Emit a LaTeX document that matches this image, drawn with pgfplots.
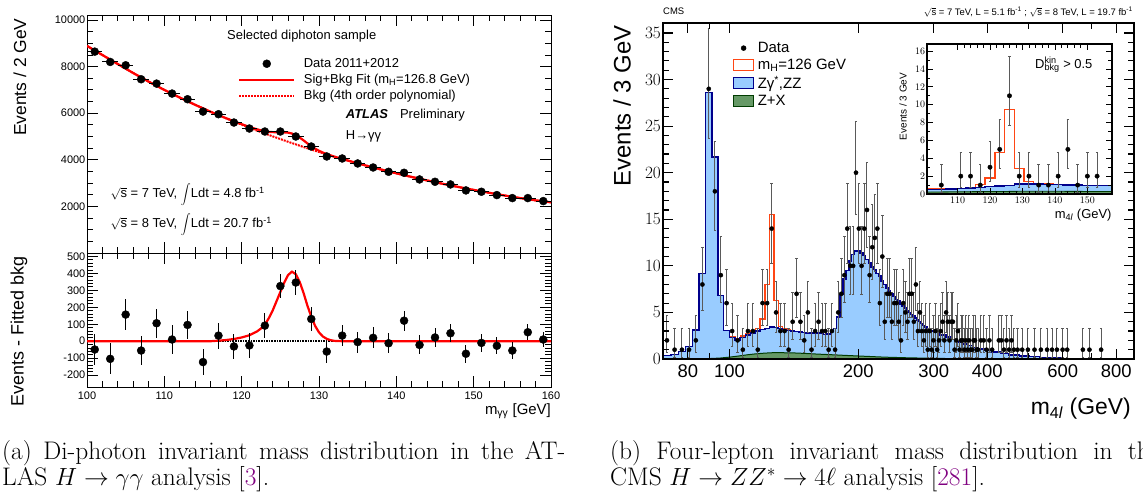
\documentclass[border=0pt]{standalone}
\usepackage{pgfplots}
\pgfplotsset{compat=1.18}
\usepackage{pgfplotstable}
\usepackage{fontspec}
\newfontfamily\arial{Liberation Sans}
\definecolor{cmsblue}{RGB}{153,204,255}
\definecolor{cmsnavy}{RGB}{0,0,140}
\definecolor{cmsgreen}{RGB}{102,153,102}
\definecolor{cmsdkgreen}{RGB}{0,60,0}
\definecolor{cmsred}{RGB}{255,70,20}
\definecolor{citepurple}{RGB}{128,0,128}
\definecolor{errgray}{RGB}{90,90,90}
\newcommand{\af}[1]{\arial\fontsize{#1}{#1}\selectfont}

\pgfplotstableread{
x y
101 8643
103 8200
105 8057
107 7457
109 7271
111 6843
113 6600
115 6071
117 5957
119 5600
121 5343
123 5214
125 5214
127 5000
129 4571
131 4143
133 4057
135 3843
137 3671
139 3486
141 3443
143 3157
145 3057
147 2943
149 2686
151 2629
153 2486
155 2357
157 2357
159 2229
}\atlasdata

\pgfplotstableread{
x y e
101 -49 93
103 -104 91
105 157 89
107 -55 87
109 106 85
111 10 83
113 96 81
115 -123 79
117 33 77
119 -31 75
121 -25 73
123 92 72
125 325 72
127 346 71
129 131 68
131 -61 65
133 33 64
135 -5 62
137 20 61
139 -12 59
141 121 58
143 -22 56
145 22 55
147 47 54
149 -74 53
151 -10 51
153 -27 50
155 -55 49
157 53 48
159 10 47
}\atlasres

\pgfplotstableread{
x y ep em
71.5 2 2.64 1.29
74.5 1 2.30 0.83
77.5 1 2.30 0.83
80.5 1 2.30 0.83
83.5 2 2.64 1.29
86.5 8 3.94 2.77
89.5 29 6.44 5.36
92.5 18 5.32 4.21
95.5 9 4.11 2.95
98.5 6 3.58 2.38
101.5 3 2.92 1.63
104.5 2 2.64 1.29
107.5 1 2.30 0.83
110.5 3 2.92 1.63
113.5 3 2.92 1.63
116.5 1 2.30 0.83
119.5 6 3.58 2.38
122.5 6 3.58 2.38
125.5 14 4.83 3.70
128.5 5 3.38 2.16
131.5 3 2.92 1.63
134.5 3 2.92 1.63
137.5 1 2.30 0.83
140.5 4 3.16 1.91
143.5 7 3.77 2.58
146.5 4 3.16 1.91
149.5 2 2.64 1.29
152.5 5 3.38 2.16
155.5 1 2.30 0.83
158.5 3 2.92 1.63
161.5 4 3.16 1.91
164.5 3 2.92 1.63
167.5 3 2.92 1.63
170.5 1 2.30 0.83
173.5 3 2.92 1.63
176.5 1 2.30 0.83
179.5 5 3.38 2.16
182.5 7 3.77 2.58
185.5 9 4.11 2.95
188.5 14 4.83 3.70
191.5 10 4.27 3.11
194.5 10 4.27 3.11
197.5 20 5.55 4.44
200.5 14 4.83 3.70
203.5 10 4.27 3.11
206.5 14 4.83 3.70
209.5 16 5.08 3.97
212.5 9 4.11 2.95
215.5 12 4.56 3.42
218.5 13 4.70 3.56
221.5 14 4.83 3.70
224.5 6 3.58 2.38
227.5 11 4.42 3.27
230.5 4 3.16 1.91
233.5 7 3.77 2.58
236.5 7 3.77 2.58
239.5 4 3.16 1.91
242.5 6 3.58 2.38
245.5 6 3.58 2.38
248.5 4 3.16 1.91
251.5 2 2.64 1.29
254.5 6 3.58 2.38
257.5 5 3.38 2.16
260.5 4 3.16 1.91
263.5 7 3.77 2.58
266.5 7 3.77 2.58
269.5 4 3.16 1.91
272.5 8 3.94 2.77
275.5 3 2.92 1.63
278.5 5 3.38 2.16
281.5 3 2.92 1.63
284.5 2 2.64 1.29
287.5 3 2.92 1.63
290.5 1 2.30 0.83
293.5 3 2.92 1.63
296.5 1 2.30 0.83
299.5 2 2.64 1.29
302.5 3 2.92 1.63
305.5 1 2.30 0.83
308.5 2 2.64 1.29
311.5 3 2.92 1.63
314.5 4 3.16 1.91
317.5 2 2.64 1.29
320.5 5 3.38 2.16
323.5 4 3.16 1.91
326.5 2 2.64 1.29
329.5 4 3.16 1.91
332.5 4 3.16 1.91
335.5 1 2.30 0.83
338.5 2 2.64 1.29
341.5 3 2.92 1.63
344.5 1 2.30 0.83
347.5 2 2.64 1.29
350.5 2 2.64 1.29
353.5 1 2.30 0.83
356.5 2 2.64 1.29
359.5 1 2.30 0.83
362.5 2 2.64 1.29
365.5 1 2.30 0.83
368.5 1 2.30 0.83
371.5 2 2.64 1.29
374.5 2 2.64 1.29
377.5 1 2.30 0.83
380.5 1 2.30 0.83
386.5 2 2.64 1.29
392.5 2 2.64 1.29
398.5 1 2.30 0.83
404.5 2 2.64 1.29
410.5 1 2.30 0.83
425.5 2 2.64 1.29
431.5 2 2.64 1.29
437.5 1 2.30 0.83
443.5 2 2.64 1.29
449.5 1 2.30 0.83
455.5 2 2.64 1.29
461.5 1 2.30 0.83
470.5 1 2.30 0.83
482.5 1 2.30 0.83
497.5 1 2.30 0.83
515.5 1 2.30 0.83
533.5 1 2.30 0.83
551.5 1 2.30 0.83
566.5 1 2.30 0.83
581.5 1 2.30 0.83
599.5 1 2.30 0.83
614.5 1 2.30 0.83
668.5 1 2.30 0.83
692.5 1 2.30 0.83
737.5 1 2.30 0.83
}\cmsdata

\pgfplotstableread{
x y ep em
105 1 2.30 0.83
111 2 2.64 1.29
114 2 2.64 1.29
117 1 2.30 0.83
120 3 2.92 1.63
123 5 3.38 2.16
126 11 4.42 3.27
129 2 2.64 1.29
132 2 2.64 1.29
135 1 2.30 0.83
138 1 2.30 0.83
141 2 2.64 1.29
144 5 3.38 2.16
147 1 2.30 0.83
150 2 2.64 1.29
153 2 2.64 1.29
}\insetdata

\pgfplotsset{
  atlas/.style={
    scale only axis, anchor=south west, width=464bp,
    xmin=100, xmax=160, xtick={100,110,...,160}, minor x tick num=4,
    major tick length=11bp, minor tick length=6bp,
    axis line style={line width=0.9bp},
    tick style={line width=0.9bp, black},
    ticklabel style={font=\af{11}},
    yticklabel style={inner sep=1.5bp},
    scaled ticks=false,
  },
  atlasdotleg/.style={legend image code/.code={\draw[##1] plot coordinates {(27.5bp,0bp)};}},
  cmsdotleg/.style={legend image code/.code={\draw[##1] plot coordinates {(10bp,0bp)};}},
}

\begin{document}
\begin{tikzpicture}
\useasboundingbox (0,0) rectangle (1143bp,-496bp);

% ================= ATLAS top panel =================
\begin{axis}[atlas,
  at={(87bp,-253bp)}, height=238bp,
  ymin=0, ymax=10215,
  xticklabels={},
  ytick={0,2000,...,10000}, yticklabels={,2000,4000,6000,8000,10000},
  minor y tick num=3,
  legend style={at={(0.3254,0.8245)}, anchor=north west, draw=none, fill=none,
    font=\af{13}, inner sep=0pt, row sep=2.3bp, nodes={inner sep=1.5bp},
    /tikz/every odd column/.append style={column sep=7bp}},
  legend cell align=left,
  legend image code/.code={\draw[#1] (0bp,0bp) -- (55bp,0bp);},
]
\addplot[forget plot, red, densely dotted, line width=2bp] coordinates {
(100,8890)(102,8496)(104,8105)(106,7720)(108,7350)(110,7000)(112,6670)(114,6358)
(116,6060)(118,5778)(120,5508)(122,5250)(124,5008)(126,4775)(128,4550)(130,4335)
(132,4133)(134,3943)(136,3760)(138,3585)(140,3420)(142,3263)(144,3113)(146,2970)
(148,2835)(150,2708)(152,2585)(154,2468)(156,2358)(158,2260)(160,2175)};
\addplot[forget plot, red, line width=2.2bp] coordinates {
(100,8890)(102,8496)(104,8105)(106,7720)(108,7350)(110,7000)(112,6670)(114,6358)
(116,6060)(117,5918)(118,5785)(119,5653)(120,5530)(121,5410)(122,5308)(122.5,5262)
(123,5223)(123.5,5201)(124,5188)(124.5,5184)(125,5180)(125.5,5177)(126,5165)
(126.5,5128)(127,5055)(127.5,4955)(128,4835)(128.5,4705)(129,4585)(129.5,4478)
(130,4387)(130.5,4311)(131,4244)(132,4135)(133,4035)(134,3943)(136,3760)(138,3585)
(140,3420)(142,3263)(144,3113)(146,2970)(148,2835)(150,2708)(152,2585)(154,2468)
(156,2358)(158,2260)(160,2175)};
\addplot[forget plot, only marks, mark=*, mark size=4bp, black,
  error bars/.cd, x dir=both, x fixed=1, y dir=both, y fixed=90,
  error mark=none, error bar style={line width=1bp, black}]
  table[x=x, y=y] {\atlasdata};
\addlegendimage{atlasdotleg, only marks, mark=*, mark size=4bp, black}
\addlegendentry{Data 2011+2012}
\addlegendimage{red, line width=2.2bp}
\addlegendentry{Sig+Bkg Fit (m\textsubscript{H}=126.8 GeV)}
\addlegendimage{red, densely dotted, line width=2bp}
\addlegendentry{Bkg (4th order polynomial)}
\end{axis}

% ================= ATLAS bottom panel =================
\begin{axis}[atlas,
  at={(87bp,-387bp)}, height=134bp,
  ymin=-270, ymax=520,
  xticklabels={100,110,120,130,140,150,160},
  ytick={-200,-100,...,500}, yticklabels={-200,-100,0,100,200,300,400,500},
  minor y tick num=4,
  xticklabel style={yshift=-1bp},
]
\addplot[black, densely dotted, line width=1.6bp] coordinates {(100,0) (160,0)};
\addplot[red, line width=2.2bp] coordinates {
(100,0)(116,0)(117,3)(118,7)(119,13)(120,22)(121,35)(122,58)(122.5,75)(123,98)
(123.5,135)(124,180)(124.5,235)(125,290)(125.5,345)(126,390)(126.5,410)(127,395)
(127.5,350)(128,285)(128.5,210)(129,145)(129.5,90)(130,52)(130.5,28)(131,14)
(131.5,6)(132,2)(133,0)(160,0)};
\addplot[only marks, mark=*, mark size=4bp, black,
  error bars/.cd, y dir=both, y explicit, error mark=none,
  error bar style={line width=1bp, black}]
  table[x=x, y=y, y error=e] {\atlasres};
\end{axis}

% ================= CMS main panel =================
\begin{axis}[
  scale only axis, anchor=south west,
  at={(663bp,-359bp)}, width=471bp, height=336.3bp,
  xmode=log, xmin=70, xmax=880, ymin=0, ymax=36.1,
  xtick={80,100,200,300,400,600,800},
  xticklabels={80,100,200,300,400,600,800},
  minor xtick={70,90,500,700},
  ytick={0,5,...,35}, minor y tick num=4,
  major tick length=10bp, minor tick length=6bp,
  axis line style={line width=2.4bp},
  tick style={line width=1.2bp, black},
  ticklabel style={font=\af{18.5}},
  yticklabel style={inner sep=2bp},
  xticklabel style={yshift=-2bp},
  axis on top,
  legend style={at={(0.148,0.947)}, anchor=north west, draw=none, fill=none,
    font=\af{15}, inner sep=0pt, row sep=2bp, nodes={inner sep=1.5bp},
    /tikz/every odd column/.append style={column sep=2bp}},
  legend cell align=left,
  legend image code/.code={\draw[#1] (0bp,-5.5bp) rectangle (20bp,5.5bp);},
]
% signal + background (red outline)
\addplot[forget plot, const plot mark left, draw=cmsred, line width=1.4bp] coordinates {
(100,2.4)(103,2.15)(106,2.45)(109,2.75)(112,3.0)(115,3.3)(118,4.3)(121,8.0)
(124,15.5)(127,6.3)(130,3.5)(133,3.2)(136,3.1)(139,3.1)};
% ZZ + Z+X (blue)
\addplot[forget plot, const plot mark left, fill=cmsblue, draw=cmsnavy, line width=1.5bp] coordinates {
(70,0.4)(73,0.5)(76,0.8)(79,1.35)(82,3.1)(85,9.2)(88,28.6)(91,21.7)(94,6.8)(97,3.05)
(100,2.3)(103,2.05)(106,2.3)(109,2.6)(112,2.8)(115,3.0)(118,3.15)(121,3.3)(124,3.45)
(127,3.4)(130,3.3)(133,3.15)(136,3.05)(139,3.0)(142,2.95)(145,2.9)(148,2.85)(151,2.8)
(154,2.8)(157,2.75)(160,2.8)(163,2.75)(166,2.65)(169,2.7)(172,3.0)(175,3.3)(178,4.5)
(181,6.9)(184,8.6)(187,9.5)(190,10.5)(193,11.2)(196,11.6)(199,11.6)(202,11.4)
(205,11.1)(208,10.7)(211,10.3)(214,9.9)(217,9.6)(220,9.2)(223,8.9)(226,8.4)(229,8.0)
(232,7.6)(235,7.3)(238,7.0)(241,6.7)(244,6.4)(247,6.2)(250,5.9)(253,5.7)(256,5.45)
(259,5.2)(262,5.0)(265,4.8)(268,4.6)(271,4.4)(274,4.2)(277,4.0)(280,3.8)(283,3.6)
(286,3.45)(289,3.3)(292,3.15)(295,3.0)(300,2.9)(310,2.6)(320,2.35)(330,2.1)(340,1.85)
(350,1.6)(360,1.45)(370,1.25)(380,1.1)(395,0.95)(410,0.75)(430,0.6)(450,0.45)
(475,0.33)(500,0.25)(530,0.17)(560,0.12)(600,0.08)(650,0.04)(700,0.02)(800,0.01)(880,0.01)}
\closedcycle;
% Z+X (green)
\addplot[forget plot, fill=cmsgreen, draw=cmsdkgreen, line width=1bp] coordinates {
(70,0)(80,0.02)(90,0.05)(95,0.1)(100,0.2)(105,0.32)(110,0.45)(115,0.55)(120,0.62)
(125,0.67)(130,0.68)(140,0.66)(150,0.6)(160,0.53)(175,0.45)(190,0.37)(210,0.28)
(230,0.2)(260,0.13)(300,0.07)(350,0.03)(400,0.01)(500,0)(880,0)} \closedcycle;
% data
\addplot[forget plot, only marks, mark=*, mark size=2.1bp, black,
  error bars/.cd, y dir=both, y explicit,
  error bar style={line width=1bp, errgray},
  error mark options={rotate=90, mark size=1.2bp, line width=0.8bp, errgray}]
  table[x=x, y=y, y error plus=ep, y error minus=em] {\cmsdata};
\addlegendimage{cmsdotleg, only marks, mark=*, mark size=2.5bp, black}
\addlegendentry{Data}
\addlegendimage{fill=white, draw=cmsred, line width=1.4bp}
\addlegendentry{m\textsubscript{H}=126 GeV}
\addlegendimage{fill=cmsblue, draw=cmsnavy, line width=1.4bp}
\addlegendentry{Zγ\textsuperscript{*},ZZ}
\addlegendimage{fill=cmsgreen, draw=cmsdkgreen, line width=1.4bp}
\addlegendentry{Z+X}
\end{axis}

% ================= CMS inset =================
\begin{axis}[
  scale only axis, anchor=south west,
  at={(926.7bp,-194bp)}, width=185bp, height=150bp,
  xmin=100.5, xmax=157.5, ymin=0, ymax=16.8,
  xtick={110,120,...,150}, minor x tick num=4,
  ytick={0,2,...,16}, minor y tick num=1,
  major tick length=6bp, minor tick length=3.5bp,
  axis line style={line width=2bp},
  tick style={line width=0.8bp, black},
  ticklabel style={font=\af{10}},
  yticklabel style={inner sep=1.5bp},
  axis background/.style={fill=white},
  axis on top,
]
\addplot[const plot mark left, draw=cmsred, line width=1.3bp] coordinates {
(100.5,0.55)(103.5,0.57)(106.5,0.6)(109.5,0.65)(112.5,0.75)(115.5,1.1)(118.5,1.8)
(121.5,4.65)(124.5,9.45)(127.5,2.85)(130.5,1.4)(133.5,1.15)(136.5,1.12)(139.5,1.1)};
\addplot[const plot mark left, fill=cmsblue, draw=cmsnavy, line width=1.5bp] coordinates {
(100.5,0.5)(103.5,0.52)(106.5,0.55)(109.5,0.6)(112.5,0.65)(115.5,0.75)(118.5,0.85)
(121.5,0.9)(124.5,0.95)(127.5,1.1)(130.5,1.12)(133.5,1.1)(136.5,1.08)(139.5,1.05)
(142.5,1.02)(145.5,1.0)(148.5,0.97)(151.5,0.95)(154.5,0.93)(157.5,0.93)} \closedcycle;
\addplot[fill=cmsgreen, draw=cmsdkgreen, line width=0.8bp] coordinates {
(100.5,0.22)(110,0.25)(120,0.28)(130,0.3)(140,0.3)(150,0.29)(157.5,0.28)} \closedcycle;
\addplot[only marks, mark=*, mark size=2.2bp, black,
  error bars/.cd, y dir=both, y explicit,
  error bar style={line width=1bp, errgray},
  error mark options={rotate=90, mark size=1.2bp, line width=0.8bp, errgray}]
  table[x=x, y=y, y error plus=ep, y error minus=em] {\insetdata};
\end{axis}

% ================= texts: ATLAS =================
\node[rotate=90, anchor=east, font=\af{17.5}] at (20bp,-15bp) {Events / 2 GeV};
\node[rotate=90, anchor=east, font=\af{18}] at (19bp,-253bp) {Events - Fitted bkg};
\node[anchor=east, font=\af{15}, inner sep=0pt] at (551bp,-411bp) {m\textsubscript{γγ} [GeV]};
\node[anchor=west, font=\af{13}, inner sep=0pt] at (227bp,-36bp) {Selected diphoton sample};
\node[anchor=west, font=\af{13}, inner sep=0pt] at (345.7bp,-115.3bp) {\textbf{\textit{ATLAS}}\hspace{12bp}Preliminary};
\node[anchor=west, font=\af{13}, inner sep=0pt] at (345.7bp,-136.7bp) {H→γγ};
\node[anchor=base west, font=\af{13}, inner sep=0pt] at (110.4bp,-197.4bp) {$\sqrt{\mbox{s}}$ = 7 TeV, $\displaystyle\int$Ldt = 4.8 fb\textsuperscript{-1}};
\node[anchor=base west, font=\af{13}, inner sep=0pt] at (110.4bp,-227.4bp) {$\sqrt{\mbox{s}}$ = 8 TeV, $\displaystyle\int$Ldt = 20.7 fb\textsuperscript{-1}};

% ================= texts: CMS =================
\node[anchor=west, font=\af{9.5}, inner sep=0pt] at (663bp,-11.7bp) {CMS};
\node[anchor=east, font=\af{9.5}, inner sep=0pt] at (1133bp,-12bp) {$\sqrt{\mbox{s}}$ = 7 TeV, L = 5.1 fb\textsuperscript{-1} ; $\sqrt{\mbox{s}}$ = 8 TeV, L = 19.7 fb\textsuperscript{-1}};
\node[rotate=90, anchor=east, font=\af{24}] at (622bp,-22bp) {Events / 3 GeV};
\node[anchor=east, font=\af{23}, inner sep=0pt] at (1131bp,-409bp) {m\textsubscript{4\textit{l}} (GeV)};
\node[rotate=90, font=\af{10}] at (903bp,-106.5bp) {Events / 3 GeV};
\node[anchor=east, font=\af{13}, inner sep=0pt] at (1111.7bp,-215bp) {m\textsubscript{4\textit{l}} (GeV)};
\node[anchor=west, font=\af{13}, inner sep=0pt] at (1035bp,-65bp) {D\rlap{\textsuperscript{kin}}\textsubscript{bkg} > 0.5};

% ================= captions =================
\node[anchor=base west, font=\fontsize{25.5}{30}\selectfont, inner sep=0pt] at (2bp,-459bp) {\makebox[563bp][s]{(a) Di-photon invariant mass distribution in the AT-}};
\node[anchor=base west, font=\fontsize{25.5}{30}\selectfont, inner sep=0pt] at (2bp,-485bp) {LAS $H\rightarrow\gamma\gamma$ analysis [\textcolor{citepurple}{3}].};
\node[anchor=base west, font=\fontsize{25.5}{30}\selectfont, inner sep=0pt] at (610bp,-459bp) {\makebox[550bp][s]{(b) Four-lepton invariant mass distribution in the}};
\node[anchor=base west, font=\fontsize{25.5}{30}\selectfont, inner sep=0pt] at (610bp,-485bp) {CMS $H\rightarrow ZZ^{*}\rightarrow 4\ell$ analysis [\textcolor{citepurple}{281}].};
\end{tikzpicture}
\end{document}
